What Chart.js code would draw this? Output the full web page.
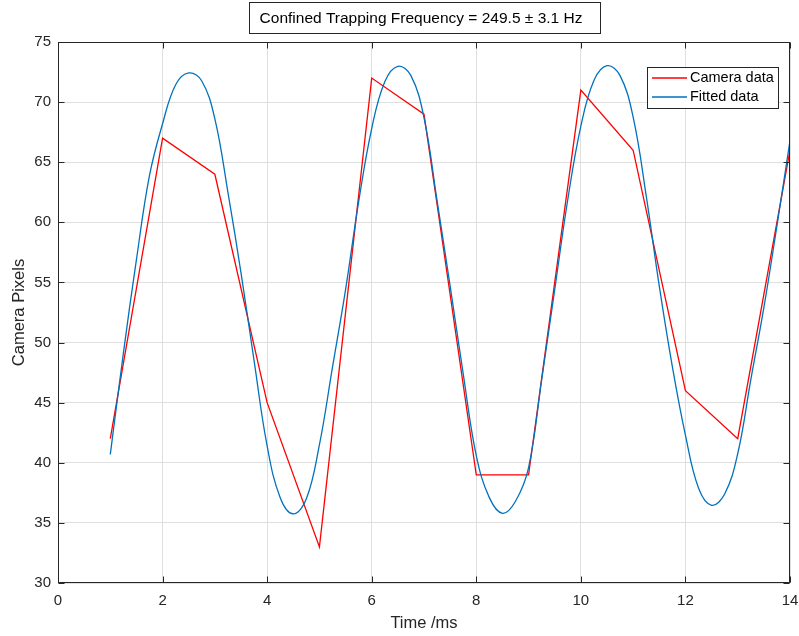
<!DOCTYPE html>
<html>
<head>
<meta charset="utf-8">
<script src="https://cdn.jsdelivr.net/npm/chart.js@4"></script>
<style>
  html, body { margin: 0; padding: 0; background: #ffffff; }
  #wrap { width: 799px; height: 636px; }
</style>
</head>
<body>
<div id="wrap"><canvas id="c" width="799" height="636"></canvas></div>
<script>
// ---- data ----
const titleText = 'Confined Trapping Frequency = 249.5 \u00B1 3.1 Hz';
const xLabel = 'Time /ms';
const yLabel = 'Camera Pixels';
const seriesNames = ['Camera data', 'Fitted data'];

const cameraTime   = [1, 2, 3, 4, 5, 6, 7, 8, 9, 10, 11, 12, 13, 14];
const cameraPixels = [42, 67, 64, 45, 33, 72, 69, 39, 39, 71, 66, 46, 42, 66];

const fitTime = [1.00, 1.25, 1.50, 1.75, 2.00, 2.25, 2.50, 2.75, 3.00, 3.25, 3.50, 3.75,
                 4.00, 4.25, 4.50, 4.75, 5.00, 5.25, 5.50, 5.75, 6.00, 6.25, 6.50, 6.75,
                 7.00, 7.25, 7.50, 7.75, 8.00, 8.25, 8.50, 8.75, 9.00, 9.25, 9.50, 9.75,
                 10.00, 10.25, 10.50, 10.75, 11.00, 11.25, 11.50, 11.75, 12.00, 12.25, 12.50, 12.75,
                 13.00, 13.25, 13.50, 13.75, 14.00];
const fitPixels = [40.7, 49.1, 56.9, 63.9, 68.2, 71.45, 72.43, 71.76, 68.6, 62.5, 55.8, 48.5,
                   41.4, 37.1, 35.75, 37.0, 41.5, 47.95, 54.4, 61.7, 67.8, 71.7, 72.98, 72.2,
                   68.7, 61.8, 54.7, 47.4, 40.6, 37.1, 35.8, 36.8, 39.6, 46.9, 54.4, 61.9,
                   68.0, 71.8, 73.03, 72.2, 68.75, 62.2, 54.7, 48.0, 42.3, 37.9, 36.46, 37.4,
                   40.75, 46.9, 52.9, 59.7, 66.8];

const xTicks = [0, 2, 4, 6, 8, 10, 12, 14];
const yTicks = [30, 35, 40, 45, 50, 55, 60, 65, 70, 75];

// ---- styles ----
const FONT = "'Liberation Sans', Arial, Helvetica, sans-serif";
const AXIS_COLOR = '#262626';
const GRID_COLOR = '#dfdfdf';
const RED = '#ff0000';
const BLUE = '#0072bd';

const cameraPts = cameraTime.map((t, i) => ({ x: t, y: cameraPixels[i] }));
const fitPts = fitTime.map((t, i) => ({ x: t, y: fitPixels[i] }));
const seriesColors = [RED, BLUE];

const decor = {
  id: 'decor',
  beforeDraw(chart) {
    const ctx = chart.ctx;
    ctx.save();
    ctx.fillStyle = '#ffffff';
    ctx.fillRect(0, 0, chart.width, chart.height);
    ctx.restore();
  },
  afterDraw(chart) {
    const ctx = chart.ctx;
    const a = chart.chartArea;
    const xs = chart.scales.x, ys = chart.scales.y;
    ctx.save();
    // axes box
    ctx.strokeStyle = AXIS_COLOR;
    ctx.lineWidth = 1;
    const L = Math.round(a.left) + 0.5, R = Math.round(a.right) - 0.5;
    const T = Math.round(a.top) + 0.5, B = Math.round(a.bottom) - 0.5;
    ctx.strokeRect(L, T, R - L, B - T);
    // inward ticks
    const tl = 6;
    ctx.beginPath();
    xTicks.forEach(v => {
      const px = Math.round(xs.getPixelForValue(v)) + 0.5;
      ctx.moveTo(px, B); ctx.lineTo(px, B - tl);
      ctx.moveTo(px, T); ctx.lineTo(px, T + tl);
    });
    yTicks.forEach(v => {
      const py = Math.round(ys.getPixelForValue(v)) + 0.5;
      ctx.moveTo(L, py); ctx.lineTo(L + tl, py);
      ctx.moveTo(R, py); ctx.lineTo(R - tl, py);
    });
    ctx.stroke();

    // title box
    ctx.font = '15.5px ' + FONT;
    ctx.fillStyle = '#ffffff';
    ctx.fillRect(249.5, 2.5, 351, 31);
    ctx.strokeStyle = '#262626';
    ctx.strokeRect(249.5, 2.5, 351, 31);
    ctx.fillStyle = '#000000';
    ctx.textAlign = 'center';
    ctx.textBaseline = 'middle';
    ctx.fillText(titleText, 421, 18.5);

    // legend
    const lx = 647, ly = 67, lw = 131, lh = 41;
    ctx.fillStyle = '#ffffff';
    ctx.fillRect(lx + 0.5, ly + 0.5, lw, lh);
    ctx.strokeStyle = '#262626';
    ctx.strokeRect(lx + 0.5, ly + 0.5, lw, lh);
    ctx.font = '14.5px ' + FONT;
    ctx.textAlign = 'left';
    ctx.textBaseline = 'middle';
    seriesNames.forEach((name, i) => {
      const yy = 78 + i * 19;
      ctx.strokeStyle = seriesColors[i];
      ctx.lineWidth = 1.3;
      ctx.beginPath();
      ctx.moveTo(652, yy); ctx.lineTo(687, yy);
      ctx.stroke();
      ctx.fillStyle = '#000000';
      ctx.fillText(name, 690, yy);
    });
    ctx.restore();
  }
};

new Chart(document.getElementById('c'), {
  type: 'line',
  data: {
    datasets: [
      {
        label: seriesNames[1],
        data: fitPts,
        borderColor: BLUE,
        borderWidth: 1.3,
        pointRadius: 0,
        fill: false,
        tension: 0.4,
        order: 0
      },
      {
        label: seriesNames[0],
        data: cameraPts,
        borderColor: RED,
        borderWidth: 1.3,
        pointRadius: 0,
        fill: false,
        tension: 0,
        order: 1
      }
    ]
  },
  options: {
    responsive: false,
    animation: false,
    devicePixelRatio: 1,
    layout: { padding: { top: 42, right: 9, left: 0, bottom: 0 } },
    plugins: {
      legend: { display: false },
      title: { display: false },
      tooltip: { enabled: false }
    },
    scales: {
      x: {
        type: 'linear',
        min: 0, max: 14,
        afterBuildTicks: s => { s.ticks = xTicks.map(v => ({ value: v })); },
        afterFit: s => { s.height = 53; s.paddingLeft = 0; s.paddingRight = 0; },
        grid: { color: GRID_COLOR, drawTicks: false, lineWidth: 1 },
        border: { display: false },
        ticks: { color: AXIS_COLOR, font: { family: FONT, size: 15 }, padding: 9, maxRotation: 0 },
        title: { display: true, text: xLabel, color: AXIS_COLOR, font: { family: FONT, size: 16.5 }, padding: { top: 0, bottom: 3 } }
      },
      y: {
        type: 'linear',
        min: 30, max: 75,
        afterBuildTicks: s => { s.ticks = yTicks.map(v => ({ value: v })); },
        afterFit: s => { s.width = 58; s.paddingTop = 0; s.paddingBottom = 0; },
        grid: { color: GRID_COLOR, drawTicks: false, lineWidth: 1 },
        border: { display: false },
        ticks: { color: AXIS_COLOR, font: { family: FONT, size: 15 }, padding: 7 },
        title: { display: true, text: yLabel, color: AXIS_COLOR, font: { family: FONT, size: 16.5 }, padding: { top: 10, bottom: 0 } }
      }
    }
  },
  plugins: [decor]
});
</script>
</body>
</html>
